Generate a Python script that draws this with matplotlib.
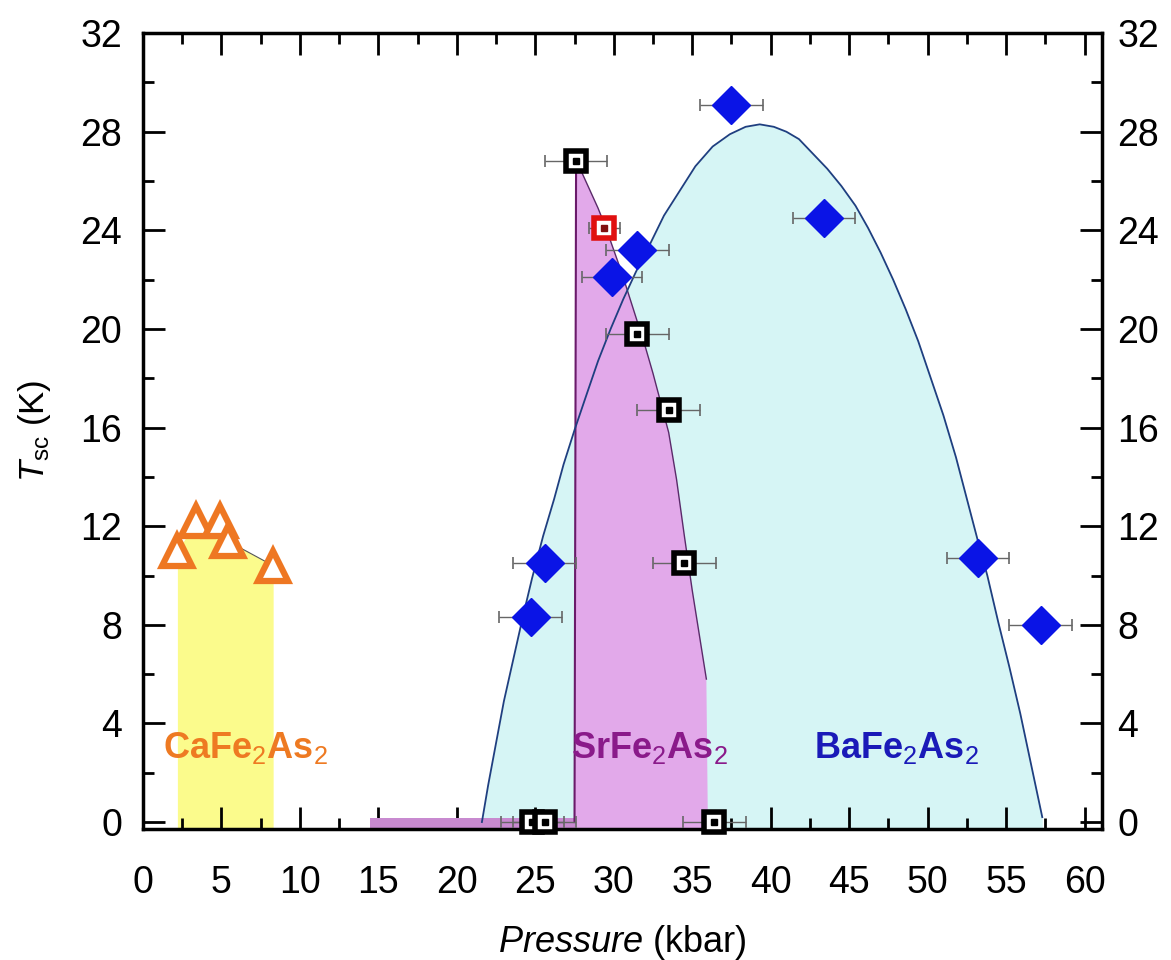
import numpy as np
import matplotlib
matplotlib.use("Agg")
import matplotlib.pyplot as plt

plt.rcParams['font.family'] = ['Liberation Sans', 'DejaVu Sans']
plt.rcParams['mathtext.fontset'] = 'custom'
plt.rcParams['mathtext.rm'] = 'Liberation Sans'
plt.rcParams['mathtext.it'] = 'Liberation Sans:italic'
plt.rcParams['mathtext.bf'] = 'Liberation Sans:bold'

# CaFe2As2 (open triangles)
ca_p = [2.2, 3.4, 4.9, 5.4, 8.3]
ca_t = [11.0, 12.2, 12.2, 11.4, 10.4]

# SrFe2As2 (open squares), red point separate
sr_p = [27.6, 31.5, 33.5, 34.5, 24.8, 25.6, 36.4]
sr_t = [26.8, 19.8, 16.7, 10.5, 0.0, 0.0, 0.0]
sr_err = [2.0, 2.0, 2.0, 2.0, 2.0, 2.0, 2.0]
sr_red_p = [29.4]
sr_red_t = [24.1]
sr_red_err = [1.0]

# BaFe2As2 (filled diamonds)
ba_p = [37.5, 43.4, 31.5, 29.9, 25.6, 24.7, 53.2, 57.2]
ba_t = [29.1, 24.5, 23.2, 22.1, 10.5, 8.3, 10.7, 8.0]
ba_err = [2.0, 2.0, 2.0, 1.9, 2.0, 2.0, 2.0, 2.0]

# guide-line for BaFe2As2 dome
ba_curve_p = [21.6, 22.0, 22.5, 23.0, 23.6, 24.2, 24.8, 25.5, 26.2, 26.8,
              27.5, 28.3, 29.0, 29.8, 30.6, 31.4, 32.2, 33.2, 34.2, 35.2,
              36.3, 37.4, 38.4, 39.3, 40.2, 41.0, 41.8, 42.7, 43.6, 44.5,
              45.4, 46.2, 47.0, 47.8, 48.6, 49.4, 50.2, 51.0, 51.8, 52.5,
              53.2, 53.8, 54.5, 55.2, 55.9, 56.6, 57.3]
ba_curve_t = [0.0, 1.5, 3.2, 4.9, 6.6, 8.3, 9.9, 11.6, 13.1, 14.5,
              15.9, 17.4, 18.7, 20.0, 21.2, 22.3, 23.3, 24.6, 25.6, 26.6,
              27.4, 27.9, 28.2, 28.3, 28.2, 28.0, 27.7, 27.1, 26.5, 25.8,
              25.0, 24.1, 23.1, 22.0, 20.8, 19.5, 18.0, 16.5, 14.8, 13.1,
              11.4, 10.0, 8.1, 6.3, 4.4, 2.3, 0.2]

# boundary of SrFe2As2 region
sr_curve_p = [27.5, 27.6, 28.0, 28.5, 29.0, 29.5, 30.0, 30.5, 31.0, 31.5,
              32.0, 32.5, 33.0, 33.5, 34.0, 34.5, 35.0, 35.5, 35.9, 36.0]
sr_curve_t = [0.0, 26.8, 26.3, 25.6, 24.9, 24.1, 23.2, 22.3, 21.3, 20.3,
              19.3, 18.2, 17.0, 15.8, 13.9, 11.6, 9.4, 7.4, 5.8, 0.0]
sr_strip_p = [14.5, 27.5]

fig = plt.figure(figsize=(11.71, 9.6), dpi=100)
ax = fig.add_axes([0.122, 0.1365, 0.819, 0.829])
ybot = -0.28

# filled regions
ax.fill_between(ba_curve_p, ybot, ba_curve_t, color='#d6f5f5', lw=0, zorder=1)
ax.fill(sr_curve_p + [27.5], sr_curve_t[:-1] + [ybot, ybot], color='#e2a9ea',
        lw=0, zorder=2)
ax.fill_between(sr_strip_p, ybot, 0.15, color='#c88ad0', lw=0, zorder=2)
ax.fill_between(ca_p, ybot, ca_t, color='#fbfb8c', lw=0, zorder=1)

# outlines
ax.plot(sr_curve_p[:2], sr_curve_t[:2], color='#6a1a6a', lw=1.5, zorder=3)
ax.plot(sr_curve_p[1:-1], sr_curve_t[1:-1], color='#5a2a6a', lw=1.0, zorder=3)
ax.plot(ba_curve_p, ba_curve_t, color='#1f3f80', lw=1.3, zorder=3)
ax.plot(ca_p[3:], ca_t[3:], color='#555555', lw=0.8, zorder=3)

# error bars
for px, pt, pe in [(ba_p, ba_t, ba_err), (sr_p, sr_t, sr_err),
                   (sr_red_p, sr_red_t, sr_red_err)]:
    ax.errorbar(px, pt, xerr=pe, fmt='none', ecolor='#666666',
                elinewidth=1.0, capsize=4.5, capthick=1.2, zorder=4)

# markers
ax.plot(ca_p, ca_t, ls='none', marker='^', ms=21, mfc='white', mec='#ee7722',
        mew=4.5, zorder=5)
ax.plot(ba_p, ba_t, ls='none', marker='D', ms=19, mfc='#0a14e6', mec='#0a14e6',
        zorder=5)
ax.plot(sr_p, sr_t, ls='none', marker='s', ms=15, mfc='white', mec='black',
        mew=4, zorder=6, clip_on=False)
ax.plot(sr_p, sr_t, ls='none', marker='s', ms=4, mfc='black', mec='black',
        zorder=7, clip_on=False)
ax.plot(sr_red_p, sr_red_t, ls='none', marker='s', ms=15, mfc='white',
        mec='#e01010', mew=4, zorder=6)
ax.plot(sr_red_p, sr_red_t, ls='none', marker='s', ms=4, mfc='#801010',
        mec='#801010', zorder=7)

# compound labels
lab_kw = dict(fontsize=26, fontweight='bold', va='center', zorder=8)
ax.text(1.3, 3.0, r"CaFe$_2$As$_2$", color='#ee7a22', ha='left', **lab_kw)
ax.text(32.3, 3.0, r"SrFe$_2$As$_2$", color='#8a1a8a', ha='center', **lab_kw)
ax.text(48.0, 3.0, r"BaFe$_2$As$_2$", color='#1a1ab8', ha='center', **lab_kw)

ax.set_xlim(0, 61.1)
ax.set_ylim(ybot, 32)
ax.set_xticks(np.arange(0, 61, 5))
ax.set_xticks(np.arange(0, 61, 2.5), minor=True)
ax.set_yticks(np.arange(0, 33, 4))
ax.set_yticks(np.arange(0, 33, 2), minor=True)

ax.tick_params(which='both', direction='in', top=True, right=True,
               width=2, labelsize=27)
ax.tick_params(axis='x', pad=26)
ax.tick_params(axis='y', pad=15)
ax.tick_params(which='major', length=16)
ax.tick_params(which='minor', length=8)
for s in ax.spines.values():
    s.set_linewidth(2.5)

# right-hand labels
ax2 = ax.twinx()
ax2.set_ylim(ax.get_ylim())
ax2.set_yticks(np.arange(0, 33, 4))
ax2.set_yticks(np.arange(0, 33, 2), minor=True)
ax2.tick_params(which='both', direction='in', width=2, labelsize=27, pad=11)
ax2.tick_params(which='major', length=16)
ax2.tick_params(which='minor', length=8)
for s in ax2.spines.values():
    s.set_visible(False)

ax.set_xlabel(r"$\mathit{Pressure}$ (kbar)", fontsize=26, labelpad=16)
ax.set_ylabel(r"$T_{\rm sc}$ (K)", fontsize=25, labelpad=20)

fig.savefig("out.png", dpi=100)
